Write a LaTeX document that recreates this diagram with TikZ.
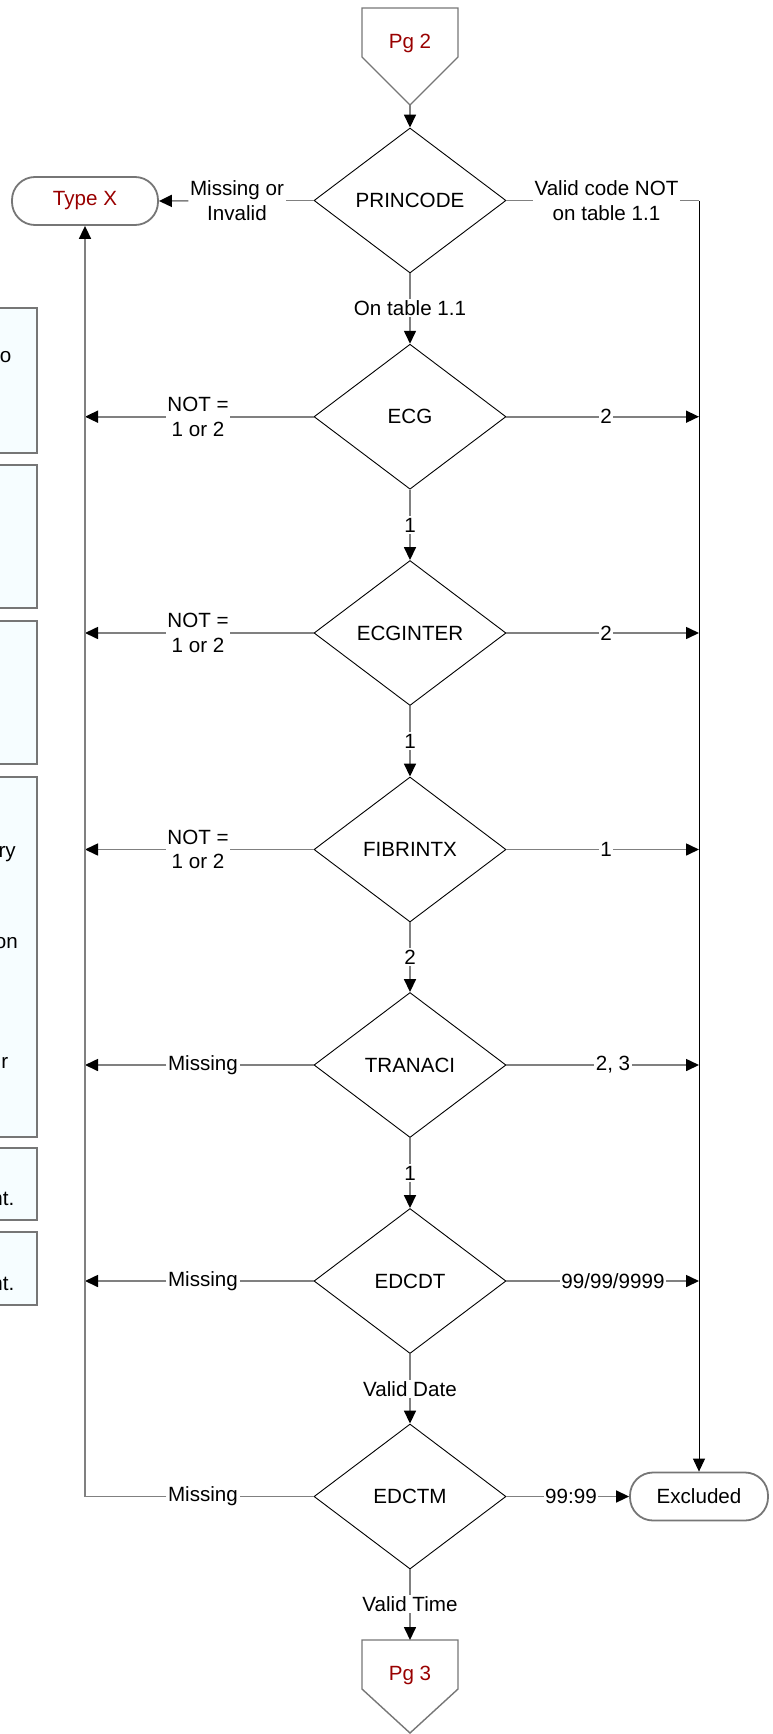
\documentclass[tikz,border=0pt]{standalone}
\usepackage{fontspec}
\setmainfont{Liberation Sans}
\usetikzlibrary{arrows.meta,shapes.geometric}
\definecolor{conngray}{RGB}{128,128,128}
\definecolor{boxgray}{RGB}{118,118,118}
\definecolor{pgred}{RGB}{153,0,0}
\definecolor{boxfill}{RGB}{246,253,255}
\begin{document}
\begin{tikzpicture}[x=1pt,y=-1pt,
  every node/.style={font=\fontsize{20.6}{24.5}\selectfont},
  dec/.style={diamond, draw=black, line width=0.9pt, minimum width=192pt, minimum height=145pt, inner sep=0pt},
  conn/.style={draw=conngray, line width=1.6pt},
  arr/.style={conn, -{Triangle[length=13pt,width=12pt,color=black]}},
  lab/.style={fill=white, inner sep=1.5pt, align=center},
  term/.style={draw=boxgray, line width=1.8pt, rounded corners=23pt, minimum height=48pt, inner sep=0pt},
  sidebox/.style={draw=boxgray, line width=1.8pt, fill=boxfill},
  frag/.style={anchor=base east, inner sep=0pt},
  pgshape/.style={draw=boxgray, line width=1.4pt},
  pgtext/.style={text=pgred, inner sep=0pt}
]
\useasboundingbox (0,0) rectangle (773,1734);
\clip (0,0) rectangle (773,1734);

% side boxes (cut off at the left edge)
\draw[sidebox] (-10,308) rectangle (36.7,453);
\draw[sidebox] (-10,465) rectangle (36.7,608);
\draw[sidebox] (-10,621) rectangle (36.7,764);
\draw[sidebox] (-10,777) rectangle (36.7,1137);
\draw[sidebox] (-10,1148) rectangle (36.7,1220);
\draw[sidebox] (-10,1232) rectangle (36.7,1305);
\node[frag] (f1) at (11.5,362) {o};
\node[frag] (f4a) at (16,857) {ry};
\node[frag] (f4b) at (18,948) {on};
\node[frag] (f4c) at (8.5,1068) {r};
\node[frag] (f5) at (14.5,1205) {nt.};
\node[frag] (f6) at (14.5,1290) {nt.};

% off-page connectors
\draw[pgshape] (362,8) -- (458,8) -- (458,57) -- (410,105) -- (362,57) -- cycle;
\node[pgtext] (pg2) at (410,43) {Pg 2};
\coordinate (pg2tip) at (410,105);
\draw[pgshape] (362,1640) -- (458,1640) -- (458,1689) -- (410,1733) -- (362,1689) -- cycle;
\node[pgtext] (pg3) at (410,1675) {Pg 3};
\coordinate (pg3top) at (410,1640);

% decisions
\node[dec] (d1) at (410,200.5) {PRINCODE};
\node[dec] (d2) at (410,416.7) {ECG};
\node[dec] (d3) at (410,633) {ECGINTER};
\node[dec] (d4) at (410,849.5) {FIBRINTX};
\node[dec] (d5) at (410,1065) {TRANACI};
\node[dec] (d6) at (410,1281) {EDCDT};
\node[dec] (d7) at (410,1496.5) {EDCTM};

% terminals
\node[term, minimum width=146pt, text=pgred] (typex) at (85,201) {Type X};
\node[term, minimum width=138pt] (excl) at (699,1496.5) {Excluded};

% vertical flow
\draw[arr] (pg2tip) -- (d1.north);
\node[lab] (v1) at (410,308) {On table 1.1};
\draw[conn] (d1.south) -- (v1);
\draw[arr] (v1) -- (d2.north);
\node[lab] (v2) at (410,525) {1};
\draw[conn] (d2.south) -- (v2);
\draw[arr] (v2) -- (d3.north);
\node[lab] (v3) at (410,741) {1};
\draw[conn] (d3.south) -- (v3);
\draw[arr] (v3) -- (d4.north);
\node[lab] (v4) at (410,957) {2};
\draw[conn] (d4.south) -- (v4);
\draw[arr] (v4) -- (d5.north);
\node[lab] (v5) at (410,1173) {1};
\draw[conn] (d5.south) -- (v5);
\draw[arr] (v5) -- (d6.north);
\node[lab] (v6) at (410,1389) {Valid Date};
\draw[conn] (d6.south) -- (v6);
\draw[arr] (v6) -- (d7.north);
\node[lab] (v7) at (410,1604) {Valid Time};
\draw[conn] (d7.south) -- (v7);
\draw[arr] (v7) -- (pg3top);

% left branches
\node[lab] (l1) at (237,200.5) {Missing or\\Invalid};
\draw[conn] (d1.west) -- (l1);
\draw[arr] (l1) -- (typex.east);
\node[lab] (l2) at (198,416.7) {NOT =\\1 or 2};
\node[lab] (l3) at (198,633) {NOT =\\1 or 2};
\node[lab] (l4) at (198,849.5) {NOT =\\1 or 2};
\node[lab] (l5) at (203,1065) {Missing};
\node[lab] (l6) at (203,1281) {Missing};
\node[lab] (l7) at (203,1496.5) {Missing};
\coordinate (L2) at (85,416.7);
\coordinate (L3) at (85,633);
\coordinate (L4) at (85,849.5);
\coordinate (L5) at (85,1065);
\coordinate (L6) at (85,1281);
\foreach \i in {2,...,7} {\draw[conn] (d\i.west) -- (l\i);}
\foreach \i in {2,...,6} {\draw[arr] (l\i) -- (L\i);}
\draw[arr] (l7) -| (typex.south);

% right branches
\node[lab] (r1) at (606.5,200.5) {Valid code NOT\\on table 1.1};
\coordinate (R1) at (699,200.5);
\draw[conn] (d1.east) -- (r1);
\draw[conn] (r1) -- (R1);
\draw[line width=1pt, -{Triangle[length=13pt,width=12pt]}] (R1) -- (excl.north);
\node[lab] (r2) at (606,416.7) {2};
\node[lab] (r3) at (606,633) {2};
\node[lab] (r4) at (606,849.5) {1};
\node[lab] (r5) at (613,1065) {2, 3};
\node[lab] (r6) at (613,1281) {99/99/9999};
\coordinate (R2) at (699,416.7);
\coordinate (R3) at (699,633);
\coordinate (R4) at (699,849.5);
\coordinate (R5) at (699,1065);
\coordinate (R6) at (699,1281);
\foreach \i in {2,...,6} {\draw[conn] (d\i.east) -- (r\i); \draw[arr] (r\i) -- (R\i);}
\node[lab] (r7) at (571,1496.5) {99:99};
\draw[conn] (d7.east) -- (r7);
\draw[arr] (r7) -- (excl.west);
\end{tikzpicture}
\end{document}
